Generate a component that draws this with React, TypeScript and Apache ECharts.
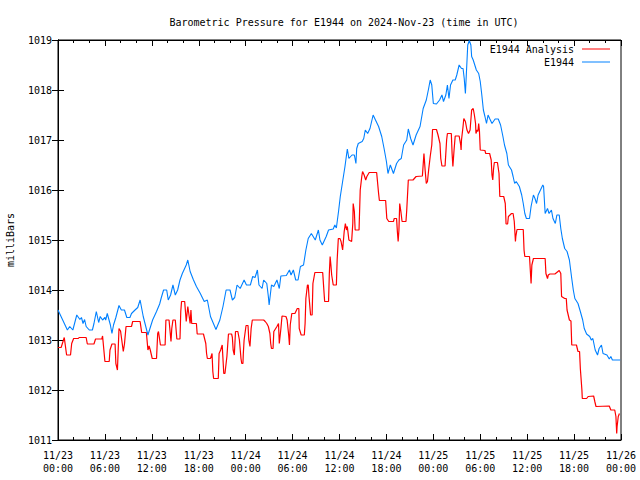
import React, { useEffect, useRef } from "react";
import * as echarts from "echarts";

const titleText = "Barometric Pressure for E1944 on 2024-Nov-23 (time in UTC)";
const yAxisName = "milliBars";
const seriesNames = ["E1944 Analysis", "E1944"];
const startDay = 23;
const yTicks = [1011, 1019];

// [hours since 11/23 00:00 UTC, millibars]
const analysis: number[][] = [
  [0.0, 1012.85], [0.4, 1012.85], [0.8, 1013.05], [1.1, 1012.7], [1.6, 1012.7], [1.75, 1012.93],
  [2.0, 1013.03], [2.6, 1013.03], [2.7, 1013.05], [3.6, 1013.05], [3.75, 1012.92], [4.6, 1012.92],
  [4.8, 1013.02], [5.6, 1013.02], [5.7, 1013.08], [6.0, 1012.57], [6.55, 1012.57], [6.65, 1012.8],
  [6.9, 1012.92], [7.3, 1012.92], [7.4, 1012.53], [7.6, 1012.4], [7.8, 1013.23], [8.0, 1013.18],
  [8.35, 1012.77], [8.5, 1012.92], [8.7, 1013.27], [9.4, 1013.27], [9.55, 1013.37], [10.5, 1013.37],
  [10.7, 1013.15], [11.3, 1013.15], [11.5, 1012.8], [11.65, 1012.88], [11.8, 1012.8], [12.05, 1012.63],
  [12.6, 1012.63], [12.75, 1013.13], [12.85, 1013.17], [13.1, 1012.9], [13.7, 1012.9], [13.8, 1013.4],
  [14.2, 1013.4], [14.45, 1012.97], [14.55, 1013.23], [14.7, 1013.4], [15.0, 1013.4], [15.2, 1013.02],
  [15.6, 1013.02], [15.7, 1013.57], [15.8, 1013.77], [16.2, 1013.77], [16.4, 1013.37], [16.6, 1013.67],
  [16.9, 1013.33], [17.0, 1013.6], [17.1, 1013.33], [17.7, 1013.33], [17.8, 1013.12], [18.6, 1013.12],
  [18.9, 1012.93], [19.0, 1012.73], [19.1, 1012.63], [19.5, 1012.63], [19.7, 1012.73], [19.8, 1012.37],
  [19.9, 1012.23], [20.5, 1012.23], [20.6, 1012.73], [20.8, 1012.8], [21.0, 1012.9], [21.2, 1012.33],
  [21.35, 1012.33], [21.6, 1012.67], [21.8, 1013.12], [22.2, 1013.12], [22.3, 1013.05], [22.4, 1012.8],
  [22.55, 1012.7], [22.7, 1013.17], [23.0, 1013.17], [23.2, 1013.0], [23.4, 1012.63], [23.5, 1012.53],
  [23.65, 1012.53], [23.7, 1012.73], [23.8, 1013.0], [24.05, 1013.29], [24.3, 1013.29], [24.4, 1013.0],
  [24.55, 1012.87], [24.7, 1013.23], [24.85, 1013.4], [26.3, 1013.4], [26.5, 1013.37], [26.7, 1013.33],
  [26.9, 1013.27], [27.1, 1013.13], [27.2, 1012.93], [27.3, 1012.83], [27.5, 1012.83], [27.6, 1013.17],
  [27.8, 1013.22], [28.0, 1013.27], [28.2, 1013.33], [28.3, 1012.93], [28.5, 1013.22], [28.65, 1013.48],
  [29.15, 1013.47], [29.3, 1013.4], [29.5, 1013.1], [29.6, 1012.9], [29.7, 1013.3], [29.9, 1013.53],
  [30.3, 1013.53], [30.6, 1013.63], [30.8, 1013.63], [30.85, 1013.23], [31.1, 1013.1], [31.5, 1013.1],
  [31.6, 1013.33], [31.7, 1013.83], [31.9, 1014.1], [32.0, 1014.1], [32.1, 1013.87], [32.3, 1013.5],
  [32.5, 1013.5], [32.6, 1014.13], [32.85, 1014.35], [33.85, 1014.35], [34.0, 1014.0], [34.1, 1013.77],
  [34.6, 1013.77], [34.7, 1014.33], [34.8, 1014.67], [34.9, 1014.5], [35.0, 1014.3], [35.2, 1014.1],
  [35.6, 1014.1], [35.7, 1014.6], [35.85, 1015.03], [36.05, 1015.03], [36.2, 1014.97], [36.4, 1014.8],
  [36.6, 1015.17], [36.75, 1015.33], [36.9, 1015.2], [37.0, 1015.27], [37.2, 1015.0], [37.55, 1014.97],
  [37.7, 1015.33], [37.75, 1015.73], [37.9, 1015.57], [38.0, 1015.2], [38.5, 1015.2], [38.65, 1016.0],
  [38.85, 1016.27], [38.95, 1016.37], [39.15, 1016.3], [39.35, 1016.2], [39.5, 1016.27], [39.8, 1016.35],
  [40.75, 1016.35], [41.0, 1015.93], [41.1, 1015.79], [41.9, 1015.79], [42.05, 1015.43], [42.3, 1015.37],
  [42.9, 1015.37], [43.0, 1015.43], [43.3, 1015.43], [43.4, 1015.17], [43.5, 1014.97], [43.6, 1015.2],
  [43.7, 1015.73], [43.85, 1015.57], [44.0, 1015.37], [44.5, 1015.37], [44.6, 1015.6], [44.8, 1016.2],
  [45.4, 1016.2], [45.8, 1016.27], [46.6, 1016.28], [46.8, 1016.73], [46.95, 1016.4], [47.1, 1016.13],
  [47.25, 1016.17], [47.4, 1016.4], [47.6, 1016.67], [47.8, 1016.9], [47.9, 1017.21], [48.4, 1017.21],
  [48.6, 1017.1], [48.85, 1016.93], [48.95, 1016.63], [49.1, 1016.48], [49.5, 1016.48], [49.7, 1017.0],
  [49.8, 1017.13], [50.3, 1017.13], [50.4, 1016.73], [50.5, 1016.47], [50.65, 1016.8], [50.8, 1017.08],
  [51.3, 1017.08], [51.5, 1016.9], [51.55, 1016.8], [51.6, 1017.0], [51.8, 1017.27], [51.9, 1017.43],
  [52.1, 1017.37], [52.3, 1017.2], [52.5, 1017.13], [52.7, 1017.2], [52.9, 1017.6], [53.1, 1017.63],
  [53.25, 1017.5], [53.4, 1017.33], [53.45, 1017.13], [53.6, 1017.2], [53.7, 1017.17], [53.8, 1017.33],
  [53.9, 1017.17], [54.0, 1016.8], [54.6, 1016.79], [54.7, 1016.73], [55.2, 1016.73], [55.4, 1016.6],
  [55.5, 1016.3], [55.6, 1016.2], [55.7, 1016.42], [55.8, 1016.55], [56.2, 1016.55], [56.4, 1016.33],
  [56.5, 1015.87], [57.0, 1015.87], [57.2, 1015.73], [57.3, 1015.32], [57.5, 1015.32], [57.6, 1015.47],
  [58.0, 1015.53], [58.2, 1015.53], [58.35, 1015.37], [58.5, 1014.97], [58.55, 1015.07], [58.7, 1015.21],
  [59.5, 1015.21], [59.6, 1014.8], [59.7, 1014.67], [60.3, 1014.67], [60.4, 1014.4], [60.5, 1014.13],
  [60.6, 1014.5], [60.8, 1014.63], [62.3, 1014.63], [62.4, 1014.33], [62.6, 1014.23], [62.7, 1014.3],
  [62.9, 1014.32], [63.55, 1014.32], [64.1, 1014.39], [64.3, 1014.33], [64.4, 1013.87], [64.8, 1013.83],
  [65.0, 1013.83], [65.1, 1013.6], [65.4, 1013.4], [65.6, 1013.38], [65.7, 1012.9], [66.3, 1012.9],
  [66.5, 1012.77], [66.7, 1012.77], [66.8, 1012.43], [67.0, 1012.0], [67.05, 1011.83], [67.6, 1011.83],
  [67.8, 1011.87], [68.5, 1011.88], [68.65, 1011.77], [68.8, 1011.67], [70.5, 1011.68], [70.7, 1011.6],
  [71.2, 1011.6], [71.35, 1011.47], [71.45, 1011.13], [71.5, 1011.27], [71.65, 1011.47], [71.8, 1011.53],
];

const station: number[][] = [
  [0.0, 1013.6], [0.6, 1013.4], [1.2, 1013.2], [1.5, 1013.27], [1.9, 1013.2], [2.4, 1013.5],
  [2.8, 1013.41], [3.0, 1013.45], [3.2, 1013.33], [3.4, 1013.41], [3.6, 1013.27], [4.0, 1013.2],
  [4.4, 1013.2], [4.6, 1013.33], [4.9, 1013.57], [5.2, 1013.35], [5.4, 1013.47], [5.7, 1013.4],
  [6.0, 1013.45], [6.1, 1013.4], [6.3, 1013.53], [6.7, 1013.3], [6.9, 1013.13], [7.1, 1013.3],
  [7.4, 1013.45], [7.8, 1013.69], [8.1, 1013.6], [8.5, 1013.6], [8.8, 1013.45], [9.2, 1013.45],
  [9.4, 1013.53], [9.85, 1013.6], [10.2, 1013.65], [10.5, 1013.8], [10.9, 1013.47], [11.5, 1013.1],
  [12.1, 1013.4], [12.6, 1013.57], [13.0, 1013.72], [13.2, 1013.84], [13.5, 1014.0], [13.9, 1014.0],
  [14.1, 1013.8], [14.4, 1013.9], [14.7, 1014.1], [15.0, 1013.9], [15.3, 1014.0], [15.6, 1014.2],
  [15.9, 1014.33], [16.4, 1014.5], [16.6, 1014.6], [16.9, 1014.37], [17.3, 1014.21], [17.7, 1014.07],
  [18.2, 1013.93], [18.7, 1013.77], [19.1, 1013.8], [19.5, 1013.47], [20.2, 1013.21], [20.7, 1013.4],
  [21.1, 1013.67], [21.5, 1014.0], [22.0, 1014.0], [22.3, 1013.8], [22.6, 1013.85], [22.9, 1014.1],
  [23.3, 1014.03], [23.8, 1014.2], [24.1, 1014.1], [24.6, 1014.1], [24.9, 1014.27], [25.2, 1014.25],
  [25.5, 1014.4], [25.7, 1014.1], [26.1, 1014.03], [26.3, 1014.2], [26.7, 1014.13], [26.9, 1013.87],
  [27.0, 1013.7], [27.3, 1014.1], [27.6, 1014.07], [28.0, 1014.2], [28.3, 1014.03], [28.5, 1014.28],
  [29.2, 1014.29], [29.6, 1014.4], [29.8, 1014.3], [30.1, 1014.4], [30.4, 1014.2], [30.7, 1014.2],
  [31.0, 1014.47], [31.4, 1014.5], [31.7, 1014.8], [32.0, 1015.03], [32.4, 1015.13], [32.9, 1015.0],
  [33.3, 1015.2], [33.5, 1015.0], [33.8, 1014.9], [34.3, 1015.07], [34.6, 1015.2], [35.2, 1015.22],
  [35.4, 1015.3], [35.6, 1015.24], [35.9, 1015.6], [36.1, 1015.87], [36.4, 1016.17], [36.7, 1016.47],
  [37.0, 1016.82], [37.2, 1016.63], [37.6, 1016.7], [37.9, 1016.7], [38.1, 1016.53], [38.2, 1016.83],
  [38.4, 1016.93], [38.9, 1016.97], [39.1, 1017.03], [39.3, 1017.2], [39.6, 1017.13], [39.9, 1017.23],
  [40.3, 1017.5], [40.6, 1017.4], [41.0, 1017.27], [41.4, 1017.07], [41.7, 1016.83], [42.0, 1016.57],
  [42.2, 1016.33], [42.5, 1016.5], [42.9, 1016.33], [43.3, 1016.53], [43.6, 1016.6], [43.9, 1016.63],
  [44.2, 1016.9], [44.6, 1017.0], [44.8, 1017.22], [45.1, 1017.03], [45.4, 1016.9], [45.8, 1017.1],
  [46.3, 1017.27], [46.7, 1017.63], [47.1, 1017.8], [47.4, 1018.03], [47.6, 1018.2], [47.8, 1018.1],
  [48.0, 1017.73], [48.4, 1017.72], [48.8, 1017.8], [49.1, 1017.9], [49.3, 1017.77], [49.6, 1017.9],
  [49.8, 1018.1], [50.0, 1017.83], [50.2, 1018.1], [50.5, 1018.2], [50.8, 1018.2], [51.0, 1018.3],
  [51.3, 1018.5], [51.6, 1018.43], [51.8, 1018.43], [51.95, 1018.23], [52.1, 1017.93], [52.3, 1018.57],
  [52.4, 1018.9], [52.6, 1018.99], [52.8, 1018.9], [52.9, 1018.67], [53.1, 1018.6], [53.3, 1018.5],
  [53.5, 1018.4], [53.8, 1018.33], [54.0, 1018.17], [54.2, 1017.9], [54.4, 1017.6], [54.6, 1017.47],
  [54.8, 1017.33], [55.0, 1017.5], [55.2, 1017.43], [55.5, 1017.33], [55.9, 1017.42], [56.3, 1017.42],
  [56.6, 1017.3], [56.9, 1017.07], [57.1, 1016.9], [57.4, 1016.73], [57.6, 1016.5], [58.0, 1016.4],
  [58.2, 1016.27], [58.4, 1016.13], [58.6, 1016.17], [59.0, 1016.07], [59.3, 1015.9], [59.5, 1015.73],
  [59.7, 1015.53], [59.9, 1015.43], [60.3, 1015.43], [60.5, 1015.67], [60.8, 1015.9], [61.0, 1015.83],
  [61.2, 1015.73], [61.4, 1015.9], [61.7, 1016.0], [62.0, 1016.1], [62.1, 1016.07], [62.3, 1015.53],
  [62.6, 1015.63], [62.8, 1015.53], [63.1, 1015.6], [63.3, 1015.43], [63.6, 1015.33], [63.8, 1015.5],
  [64.1, 1015.5], [64.3, 1015.23], [64.5, 1015.03], [64.8, 1014.83], [65.1, 1014.77], [65.4, 1014.6],
  [65.7, 1014.23], [65.9, 1014.0], [66.1, 1013.83], [66.5, 1013.73], [66.8, 1013.57], [67.1, 1013.4],
  [67.3, 1013.23], [67.6, 1013.12], [68.0, 1013.07], [68.2, 1013.0], [68.4, 1013.03], [68.7, 1012.8],
  [69.0, 1012.7], [69.2, 1012.83], [69.5, 1012.9], [69.7, 1012.73], [70.2, 1012.7], [70.5, 1012.62],
  [70.7, 1012.67], [70.9, 1012.6], [71.9, 1012.6],
];

const hoursSpan = [0, 72];
const tickHours = 6;

const pad = (n: number) => (n < 10 ? "0" + n : "" + n);
const formatHour = (h: number) => {
  const day = startDay + Math.floor(h / 24);
  const hr = Math.round(h % 24);
  return "11/" + day + "\n" + pad(hr) + ":00";
};

const FONT = "DejaVu Sans Mono";

export default function App() {
  const ref = useRef<HTMLDivElement>(null);
  useEffect(() => {
    if (!ref.current) return;
    const chart = echarts.init(ref.current, null, { renderer: "svg" });
    const axisCommon = {
      axisLine: { show: true, lineStyle: { color: "#000", width: 1 } },
      splitLine: { show: false },
    };
    const legendCommon = {
      right: 30,
      align: "right",
      orient: "vertical",
      icon: "rect",
      itemWidth: 28,
      itemHeight: 1,
      padding: 0,
      textStyle: { fontFamily: FONT, fontSize: 10, color: "#000", padding: [0, 3, 0, 0] },
    };
    chart.setOption({
      animation: false,
      backgroundColor: "#fff",
      textStyle: { fontFamily: FONT },
      title: {
        text: titleText,
        left: 339,
        top: 12,
        textAlign: "center",
        textStyle: { fontFamily: FONT, fontSize: 10, fontWeight: "normal", color: "#000" },
      },
      legend: [
        { ...legendCommon, data: [seriesNames[0]], top: 44 },
        { ...legendCommon, data: [seriesNames[1]], top: 57 },
      ],
      grid: {
        left: 58,
        right: 19,
        top: 40,
        bottom: 40,
        outerBoundsMode: "none",
        containLabel: false,
        show: true,
        borderColor: "#000",
        borderWidth: 1,
        backgroundColor: "#fff",
      },
      xAxis: [
        {
          type: "value",
          min: hoursSpan[0],
          max: hoursSpan[1],
          interval: tickHours,
          position: "bottom",
          ...axisCommon,
          axisTick: { show: true, inside: true, length: 6, lineStyle: { color: "#000" } },
          minorTick: { show: true, splitNumber: 3, length: 3, lineStyle: { color: "#000" } },
          axisLabel: {
            formatter: (v: number) => formatHour(v),
            fontFamily: FONT,
            fontSize: 10,
            color: "#000",
            lineHeight: 13,
            margin: 9,
          },
        },
        {
          type: "value",
          min: hoursSpan[0],
          max: hoursSpan[1],
          interval: tickHours,
          position: "top",
          ...axisCommon,
          axisTick: { show: true, inside: true, length: 6, lineStyle: { color: "#000" } },
          minorTick: { show: true, splitNumber: 3, length: 3, lineStyle: { color: "#000" } },
          axisLabel: { show: false },
        },
      ],
      yAxis: [
        {
          type: "value",
          min: yTicks[0],
          max: yTicks[1],
          interval: 1,
          position: "left",
          name: yAxisName,
          nameLocation: "middle",
          nameGap: 43,
          nameTextStyle: { fontFamily: FONT, fontSize: 10, color: "#000" },
          ...axisCommon,
          axisTick: { show: true, inside: true, length: 6, lineStyle: { color: "#000" } },
          axisLabel: { fontFamily: FONT, fontSize: 10, color: "#000", margin: 6, formatter: (v: number) => String(v) },
        },
        {
          type: "value",
          min: yTicks[0],
          max: yTicks[1],
          interval: 1,
          position: "right",
          ...axisCommon,
          axisTick: { show: true, inside: true, length: 6, lineStyle: { color: "#000" } },
          axisLabel: { show: false },
        },
      ],
      series: [
        {
          name: seriesNames[0],
          type: "line",
          data: analysis,
          showSymbol: false,
          symbol: "none",
          lineStyle: { color: "#ff0000", width: 1.2 },
          itemStyle: { color: "#ff0000" },
        },
        {
          name: seriesNames[1],
          type: "line",
          data: station,
          showSymbol: false,
          symbol: "none",
          lineStyle: { color: "#0080ff", width: 1.1 },
          itemStyle: { color: "#0080ff" },
        },
      ],
    });
    return () => chart.dispose();
  }, []);
  return (
    <div
      ref={ref}
      style={{ position: "fixed", left: 0, top: 0, width: 640, height: 480, background: "#fff" }}
    />
  );
}
